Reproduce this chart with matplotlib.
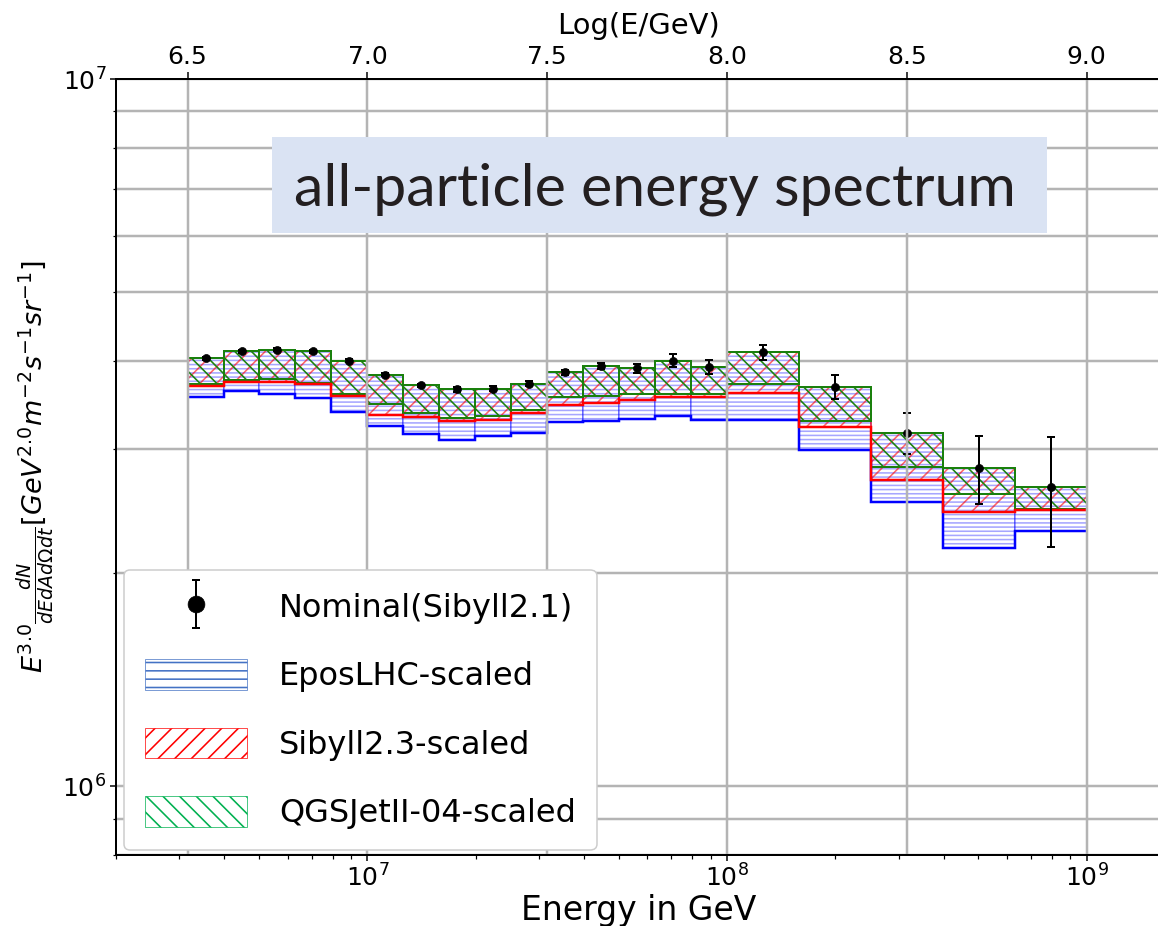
import numpy as np
import matplotlib
matplotlib.use('Agg')
import matplotlib.pyplot as plt
from matplotlib.patches import Patch, Rectangle
from matplotlib.legend_handler import HandlerErrorbar
from matplotlib.container import ErrorbarContainer
from matplotlib.ticker import NullFormatter, FixedLocator

# energy bins in log10(E/GeV)
log_edges = [6.5, 6.6, 6.7, 6.8, 6.9, 7.0, 7.1, 7.2, 7.3, 7.4, 7.5,
             7.6, 7.7, 7.8, 7.9, 8.0, 8.2, 8.4, 8.6, 8.8, 9.0]

# E^3 flux, units of 1e6 GeV^2 m^-2 s^-1 sr^-1
nominal = [4.03, 4.12, 4.14, 4.12, 4.00, 3.82, 3.69, 3.64, 3.65, 3.71,
           3.85, 3.93, 3.90, 4.00, 3.92, 4.11, 3.67, 3.16, 2.82, 2.65]
nominal_err = [0.02, 0.02, 0.02, 0.02, 0.02, 0.02, 0.02, 0.03, 0.03, 0.03,
               0.03, 0.04, 0.06, 0.08, 0.09, 0.10, 0.14, 0.21, 0.31, 0.47]

# rescaled spectra from the other hadronic models (lower edge of each band)
epos_low = [3.55, 3.62, 3.59, 3.54, 3.38, 3.23, 3.15, 3.09, 3.13, 3.16,
            3.27, 3.29, 3.31, 3.34, 3.30, 3.30, 2.99, 2.52, 2.17, 2.30]
sibyll_low = [3.68, 3.73, 3.73, 3.70, 3.56, 3.35, 3.33, 3.28, 3.30, 3.37,
              3.46, 3.48, 3.52, 3.55, 3.55, 3.60, 3.22, 2.71, 2.44, 2.46]
qgsjet_low = [3.71, 3.76, 3.77, 3.72, 3.59, 3.47, 3.37, 3.32, 3.34, 3.41,
              3.55, 3.56, 3.59, 3.59, 3.59, 3.71, 3.29, 2.83, 2.59, 2.47]

scale = 1e6
edges = 10 ** np.array(log_edges)
centers = 10 ** ((np.array(log_edges[:-1]) + np.array(log_edges[1:])) / 2)
widths = np.diff(edges)
nom = np.array(nominal) * scale
err = np.array(nominal_err) * scale

DPI = 50
px = 72 / DPI   # points per output pixel

plt.rcParams['hatch.linewidth'] = 1.6 * px
grid_col = '#b4b4b4'

fig = plt.figure(figsize=(1158 / DPI, 926 / DPI), dpi=DPI)
ax = fig.add_axes([116 / 1158, 71 / 926, 1046 / 1158, 776 / 926])
ax.set_xscale('log')
ax.set_yscale('log')

bands = [
    (epos_low, 'blue', '--', 'white', (0, 0, 1, 0.35)),
    (sibyll_low, 'red', '/', 'none', (1, 0, 0, 0.6)),
    (qgsjet_low, 'green', '\\', 'none', (0.1, 0.5, 0.05, 1.0)),
]
for low, col, hatch, face, edge in bands:
    low = np.array(low) * scale
    ax.bar(edges[:-1], nom - low, width=widths, bottom=low, align='edge',
           facecolor=face, edgecolor=edge, hatch=hatch, linewidth=2 * px,
           zorder=1)
    if col != 'green':
        ax.stairs(low, edges, baseline=None, color=col, lw=2.5 * px, zorder=2)

eb = ax.errorbar(centers, nom, yerr=err, fmt='o', color='black', ms=8 * px,
                 capsize=4 * px, elinewidth=2 * px, capthick=2 * px, zorder=3)

ax.set_xlim(2e6, 1.62e9)
ax.set_ylim(8e5, 1e7)
ax.yaxis.set_minor_formatter(NullFormatter())
ax.xaxis.set_minor_formatter(NullFormatter())
ax.set_axisbelow(True)
ax.grid(True, axis='y', which='both', color=grid_col, lw=2.5 * px)
ax.tick_params(which='major', length=6 * px, width=1.5 * px,
               labelsize=25 * px, pad=3.5 * px)
ax.tick_params(which='minor', length=3.5 * px, width=1.2 * px)
for s in ax.spines.values():
    s.set_linewidth(2 * px)

ax.set_xlabel('Energy in GeV', fontsize=33 * px, labelpad=2 * px)
ax.set_ylabel(r'$E^{3.0}\frac{dN}{dEdAd\Omega dt}[GeV^{2.0}m^{-2}s^{-1}sr^{-1}]$',
              fontsize=27 * px)
ax.yaxis.set_label_coords(-0.056, 0.5)

# top axis in log10(E/GeV)
ax2 = ax.twiny()
ax2.set_xlim(np.log10(ax.get_xlim()))
ax2.xaxis.set_major_locator(FixedLocator([6.5, 7.0, 7.5, 8.0, 8.5, 9.0]))
ax2.set_xticklabels(['6.5', '7.0', '7.5', '8.0', '8.5', '9.0'])
ax2.tick_params(length=7 * px, width=1.5 * px, labelsize=25 * px,
                pad=3.5 * px)
ax2.grid(True, axis='x', color=grid_col, lw=2.5 * px)
ax2.set_xlabel('Log(E/GeV)', fontsize=29 * px, labelpad=10 * px)
for s in ax2.spines.values():
    s.set_linewidth(2 * px)

handles = [eb,
           Patch(facecolor='white', edgecolor='#4472c4', hatch='-'),
           Patch(facecolor='white', edgecolor='red', hatch='/'),
           Patch(facecolor='white', edgecolor='#00b050', hatch='\\')]
labels = ['Nominal(Sibyll2.1)', 'EposLHC-scaled', 'Sibyll2.3-scaled',
          'QGSJetII-04-scaled']
leg = ax2.legend(handles, labels, loc='lower left',
                 bbox_to_anchor=(8 / 1046, 5 / 776), borderaxespad=0,
                 fontsize=32 * px, handlelength=3.2, handleheight=1.1,
                 handletextpad=1.0, labelspacing=1.1, borderpad=0.65,
                 markerscale=2.1, framealpha=1, edgecolor='#cccccc',
                 handler_map={ErrorbarContainer: HandlerErrorbar(yerr_size=0.75)})
leg.get_frame().set_linewidth(1.5 * px)

# boxed caption
fig.add_artist(Rectangle((272 / 1158, 1 - 233 / 926), 775 / 1158, 96 / 926,
                         transform=fig.transFigure, facecolor='#dae3f3',
                         edgecolor='none', zorder=5))
fig.text(655 / 1158, 1 - 206 / 926, 'all-particle energy spectrum',
         ha='center', va='baseline', fontsize=59 * px, family='Lato',
         color='#231f20', zorder=6)

fig.savefig('out.png', dpi=DPI)
